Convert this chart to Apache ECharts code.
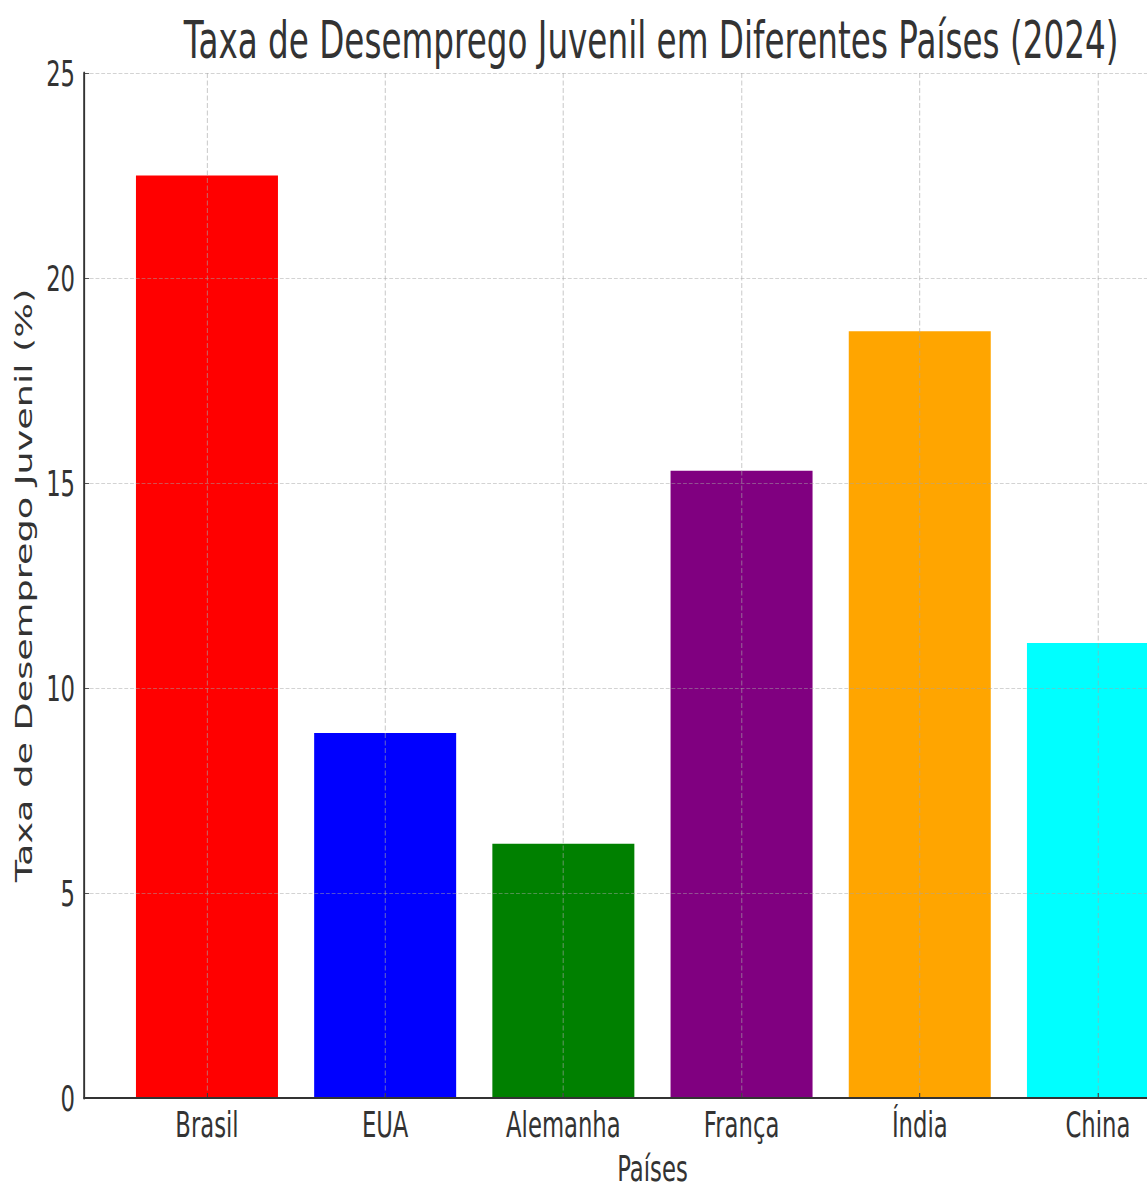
<!DOCTYPE html>
<html>
<head>
<meta charset="utf-8">
<title>Taxa de Desemprego Juvenil</title>
<script src="https://cdn.jsdelivr.net/npm/echarts@6/dist/echarts.min.js"></script>
<style>
  html, body { margin: 0; padding: 0; background: #fff; overflow: hidden; width: 1147px; height: 1188px; }
  #chart { height: 1188px; transform-origin: 0 0; }
</style>
</head>
<body>
<div id="chart"></div>
<script>
// Data
const countries = ['Brasil', 'EUA', 'Alemanha', 'França', 'Índia', 'China'];
const rates = [22.5, 8.9, 6.2, 15.3, 18.7, 11.1];
const barColors = ['#ff0000', '#0000ff', '#008000', '#800080', '#ffa500', '#00ffff'];
const yMax = 25;
const yStep = 5;

// The figure is drawn wide and then narrowed horizontally
const SX = 0.64;
const W = 1147 / SX;
const el = document.getElementById('chart');
el.style.width = W + 'px';
el.style.transform = 'scaleX(' + SX + ')';

// Plot area (in on-screen pixels): left spine at 84, one category step = 178.2px,
// x range padded by 0.69 of a step on the left; the right side runs off the page.
const plotLeft = 84;
const step = 178.2;
const xMin = -0.69;
const xMax = xMin + (1147 - plotLeft) / step;
const axesCenter = plotLeft + (5.69 - xMin) * step / 2;   // middle of the full axes box

const chart = echarts.init(el, null, { renderer: 'svg', width: W, height: 1188 });
const font = 'DejaVu Sans';
const ink = '#333333';
const gridColor = 'rgba(165,165,165,0.6)';

chart.setOption({
  backgroundColor: '#ffffff',
  animation: false,
  title: {
    text: 'Taxa de Desemprego Juvenil em Diferentes Países (2024)',
    left: (axesCenter - 4.5) / SX,
    textAlign: 'center',
    top: 10,
    textStyle: { fontFamily: font, fontSize: 51, fontWeight: 'normal', color: ink }
  },
  grid: {
    left: plotLeft / SX, right: 0, top: 73, bottom: 90,
    containLabel: false, outerBoundsMode: 'none'
  },
  xAxis: {
    type: 'value',
    min: xMin,
    max: xMax,
    z: 3,
    name: 'Países',
    nameLocation: 'middle',
    nameGap: 53,
    nameTextStyle: {
      fontFamily: font, fontSize: 35.5, color: ink, lineHeight: 34,
      padding: [0, 0, 0, 2 * (axesCenter - (plotLeft + 1147) / 2) / SX]
    },
    axisLine: { show: true, onZero: false, lineStyle: { color: '#333', width: 2 } },
    axisTick: { show: true, inside: true, length: 5, customValues: countries.map((c, i) => i), lineStyle: { color: '#333', width: 1.6 } },
    axisLabel: {
      customValues: countries.map((c, i) => i),
      formatter: v => countries[Math.round(v)],
      fontFamily: font, fontSize: 35.5, color: ink, margin: 8
    },
    splitLine: { show: true, lineStyle: { color: gridColor, width: 1.6, type: [5, 2.5] } }
  },
  yAxis: {
    type: 'value',
    min: 0,
    max: yMax,
    interval: yStep,
    z: 3,
    name: 'Taxa de Desemprego Juvenil (%)',
    nameLocation: 'middle',
    nameGap: 76,
    nameTextStyle: { fontFamily: font, fontSize: 36.6, color: ink },
    axisLine: { show: true, onZero: false, lineStyle: { color: '#333', width: 3 } },
    axisTick: { show: true, inside: true, length: 8, lineStyle: { color: '#333', width: 1 } },
    axisLabel: { fontFamily: font, fontSize: 35.5, color: ink, margin: 14 },
    splitLine: { show: true, lineStyle: { color: gridColor, width: 1, type: [6, 3] } }
  },
  series: [{
    type: 'bar',
    z: 2,
    barWidth: 142 / SX,
    data: rates.map((v, i) => ({ value: [i, v], itemStyle: { color: barColors[i] } }))
  }]
});
</script>
</body>
</html>
